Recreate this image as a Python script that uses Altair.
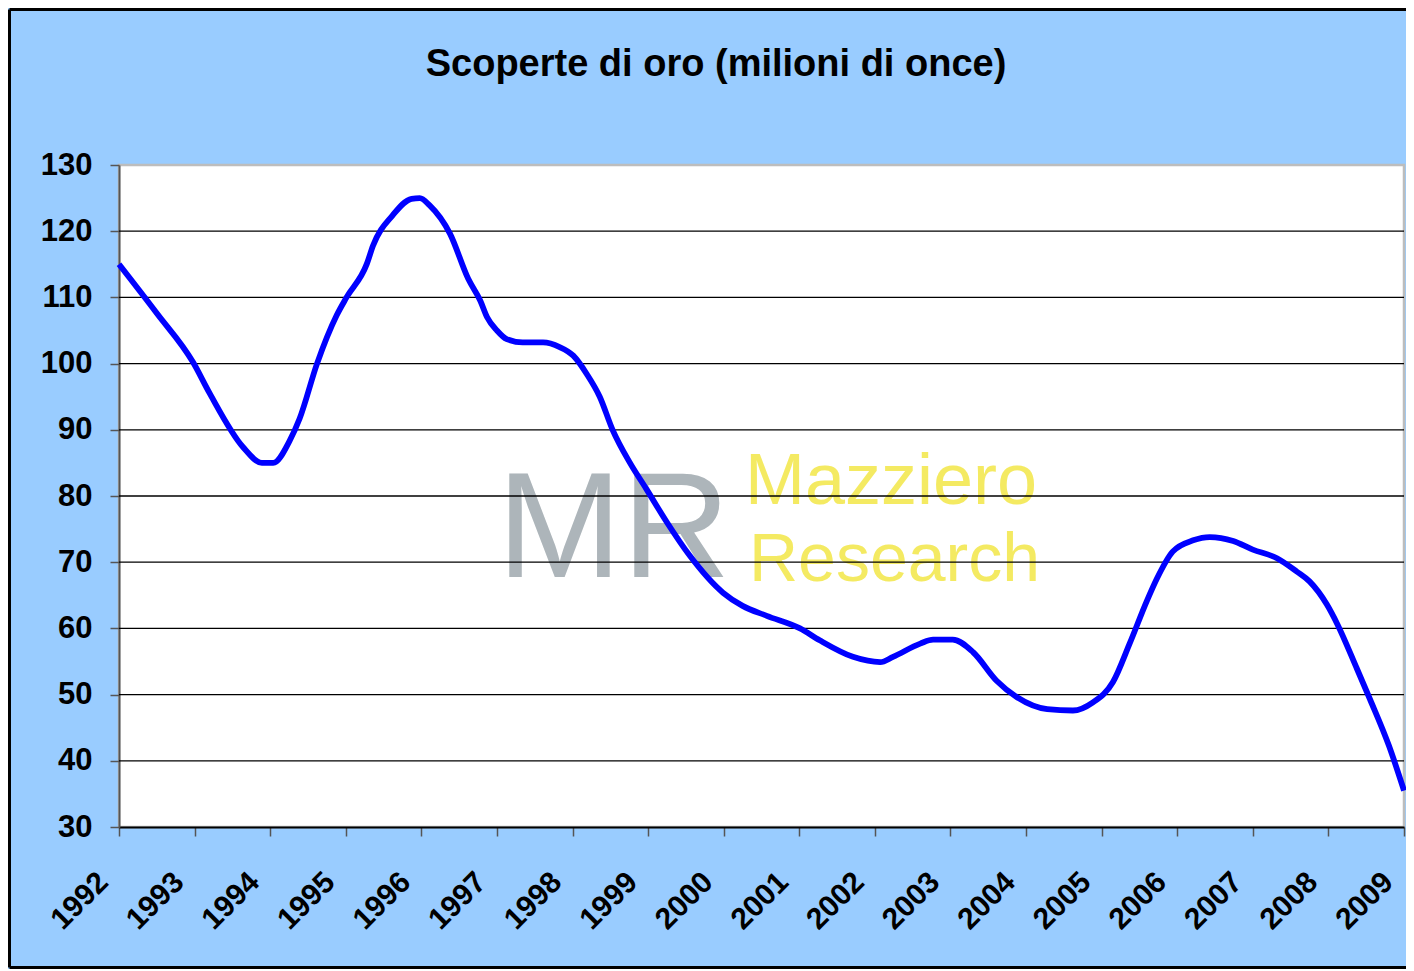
import altair as alt
import pandas as pd

title_text = "Scoperte di oro (milioni di once)"
year_ticks = list(range(1992, 2010))
value_ticks = list(range(30, 140, 10))
grid_values = list(range(40, 130, 10))

curve_years = [
    1992.00, 1992.50, 1992.98, 1993.20, 1993.64, 1993.89, 1994.04, 1994.26, 1994.39,
    1994.62, 1994.88, 1995.01, 1995.28, 1995.36, 1995.62, 1995.87, 1995.98,
    1996.11, 1996.38, 1996.62, 1996.78, 1996.87, 1997.00, 1997.13, 1997.34,
    1997.61, 1997.83, 1998.01, 1998.19, 1998.36, 1998.53, 1998.76, 1998.98,
    1999.25, 1999.55, 1999.99, 2000.25, 2000.57, 2001.01, 2001.27, 2001.71,
    2002.07, 2002.24, 2002.60, 2002.77, 2003.03, 2003.30, 2003.61, 2003.88,
    2004.28, 2004.62, 2004.88, 2005.15, 2005.37, 2005.60, 2005.73, 2005.94,
    2006.21, 2006.43, 2006.74, 2007.00, 2007.32, 2007.58, 2007.75, 2007.98,
    2008.12, 2008.37, 2008.55, 2008.80, 2009.00,
]
curve_values = [
    115.0, 107.6, 100.2, 95.5, 87.4, 85.0, 85.0, 88.4, 91.7,
    100.0, 107.3, 110.0, 115.1, 117.8, 122.4, 124.9, 125.0,
    123.9, 119.6, 112.8, 109.5, 107.0, 105.0, 103.7, 103.2,
    103.2, 102.5, 101.2, 98.4, 95.0, 90.0, 85.0, 81.0,
    76.0, 71.0, 65.4, 63.4, 61.9, 60.0, 58.2, 55.7,
    54.9, 55.7, 57.7, 58.3, 58.3, 56.4, 52.1, 49.6,
    47.8, 47.6, 48.8, 51.9, 57.7, 64.2, 67.5, 71.6,
    73.3, 73.8, 73.2, 71.9, 70.6, 68.6, 67.1, 63.6,
    60.6, 54.1, 49.3, 42.3, 35.5,
]

W, H = 1285, 662
PAD = {"left": 111, "top": 157, "right": 2, "bottom": 142}
FONT = "Liberation Sans, Arial, sans-serif"

line_df = pd.DataFrame({"anno": curve_years, "once": curve_values})
grid_df = pd.DataFrame({"v": grid_values})
one = alt.InlineData(values=[{"k": 1}])

xscale = alt.Scale(domain=[1992, 2009], nice=False, zero=False)
yscale = alt.Scale(domain=[30, 130], nice=False, zero=False)

y_axis = alt.Axis(
    values=value_ticks, title=None, grid=False,
    labelPadding=18, labelFlush=False, labelOverlap=False,
    labelFont=FONT, labelFontSize=31, labelFontWeight="bold", labelColor="black",
    tickSize=9, tickColor="#555555", tickWidth=1.5,
    domainColor="#555555", domainWidth=2,
)
x_axis = alt.Axis(
    values=year_ticks, format="d", title=None, grid=False,
    labelAngle=-45, labelAlign="right", labelBaseline="middle",
    labelOffset=-16, labelPadding=41, labelFlush=False, labelOverlap=False,
    labelFont=FONT, labelFontSize=30, labelFontWeight="bold", labelColor="black",
    tickSize=9, tickColor="#555555", tickWidth=1.5,
    domainColor="black", domainWidth=2,
)

# outer frame (left, top, bottom edges of the chart box)
fl = -PAD["left"] + 1.5
ft = -PAD["top"] + 1.5
fb = H + PAD["bottom"] - 1.5
fr = W + PAD["right"]
frame_left = alt.Chart(one).mark_rule(color="black", strokeWidth=3).encode(
    x=alt.value(fl), y=alt.value(ft), y2=alt.value(fb))
frame_top = alt.Chart(one).mark_rule(color="black", strokeWidth=3).encode(
    x=alt.value(fl), x2=alt.value(fr), y=alt.value(ft))
frame_bottom = alt.Chart(one).mark_rule(color="black", strokeWidth=3).encode(
    x=alt.value(fl), x2=alt.value(fr), y=alt.value(fb))

def txt(text, x, y, size, color, align, weight="normal"):
    return alt.Chart(one).mark_text(
        text=text, font=FONT, fontSize=size, color=color, align=align,
        baseline="alphabetic", fontWeight=weight,
    ).encode(x=alt.value(x), y=alt.value(y))

title = txt(title_text, 597, -89, 38, "black", "center", "bold")
wm_mr = txt("MR", 378, 412, 150, "#ADB5BA", "left")
wm_maz = txt("Mazziero", 626, 339, 72, "#F4EA62", "left")
wm_res = txt("Research", 630, 416, 68, "#F4EA62", "left")

grid = alt.Chart(grid_df).mark_rule(color="black", strokeWidth=1.3).encode(
    y=alt.Y("v:Q", scale=yscale, axis=y_axis)
)

line = alt.Chart(line_df).mark_line(
    color="#0000FF", strokeWidth=5.8, interpolate="monotone"
).encode(
    x=alt.X("anno:Q", scale=xscale, axis=x_axis),
    y=alt.Y("once:Q", scale=yscale, axis=y_axis),
)

chart = alt.layer(
    frame_left, frame_top, frame_bottom, title,
    wm_mr, wm_maz, wm_res, grid, line
).properties(
    width=W, height=H,
    autosize=alt.AutoSizeParams(type="none"),
    padding=PAD,
    background="#99CCFF",
).configure_view(
    fill="white", stroke="#BDBDBD", strokeWidth=2.5,
)

chart.save("out.html", embed_options={"renderer": "svg", "actions": False})
